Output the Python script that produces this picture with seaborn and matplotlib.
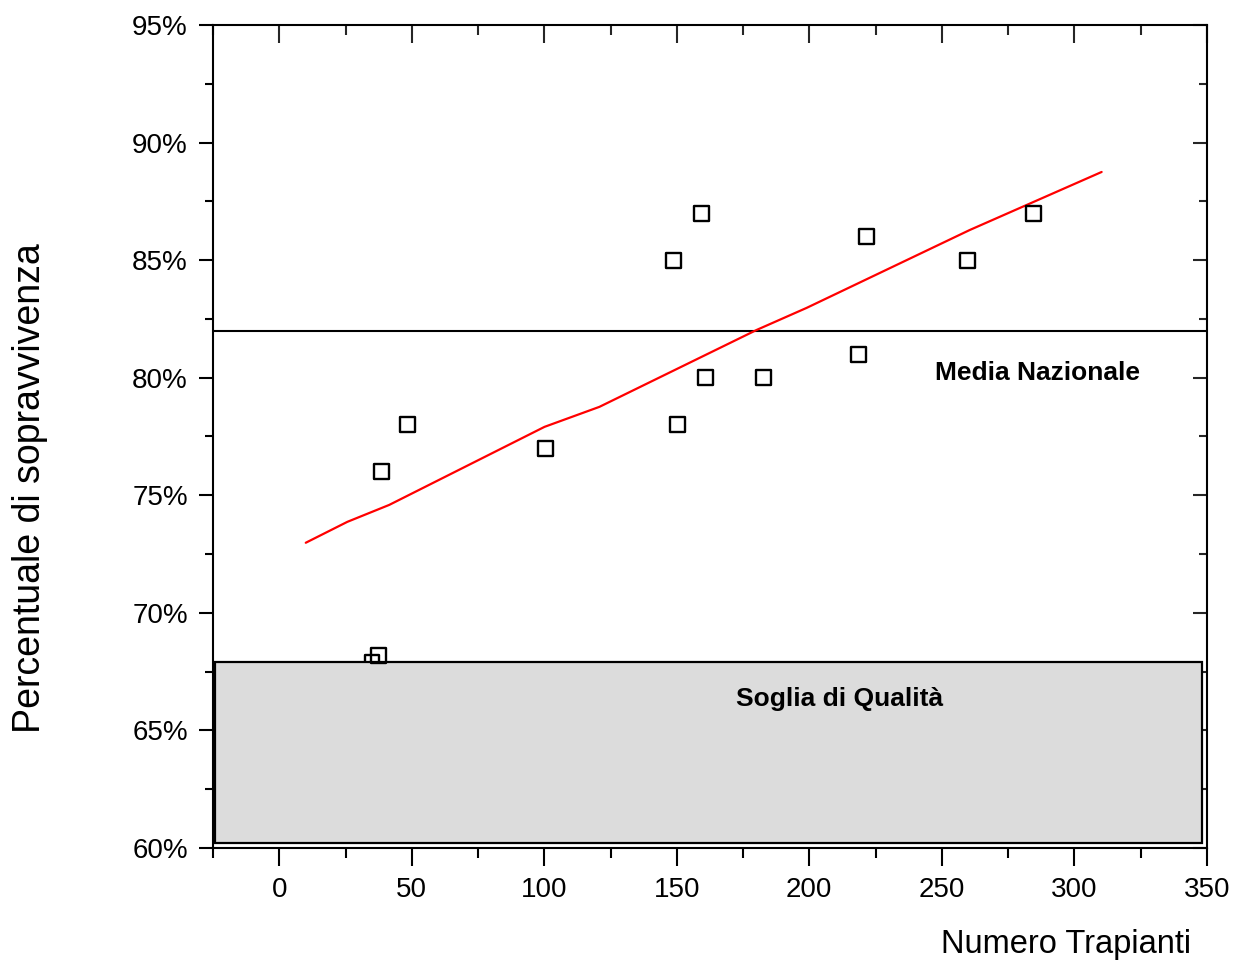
"""
Sopravvivenza vs numero trapianti - scatter con linea di tendenza
"""
import matplotlib
matplotlib.use("Agg")
import matplotlib.pyplot as plt
import matplotlib.ticker as mticker
from matplotlib.patches import Rectangle
import seaborn as sns
import pandas as pd

# centri (numero trapianti, % sopravvivenza)
centri_x = [38.5, 48.3, 100.4, 148.7, 159.3, 150.2, 160.8, 182.7, 218.6, 221.6, 259.7, 284.6, 37.5]
centri_y = [76.0, 78.0, 77.0, 85.0, 87.0, 78.0, 80.0, 80.0, 81.0, 86.0, 85.0, 87.0, 68.2]
# centro quasi coperto dalla fascia grigia
nascosto_x = [35.0]
nascosto_y = [67.9]

# linea di tendenza (rossa)
trend_x = [10, 25.7, 41.5, 100.1, 120.8, 180.1, 199.0, 260.5, 310.3]
trend_y = [72.98, 73.87, 74.59, 77.91, 78.76, 82.03, 82.97, 86.28, 88.75]

media_nazionale = 82.0
soglia_qualita = 67.9
soglia_base = 60.2

sns.set_theme(style="ticks")
plt.rcParams["font.family"] = ["Liberation Sans", "DejaVu Sans"]

fig = plt.figure(figsize=(12.34, 9.66), dpi=100)
ax = fig.add_axes([0.1726, 0.1222, 0.978 - 0.1726, 0.9741 - 0.1222])

df = pd.DataFrame({"x": centri_x, "y": centri_y})
df_tr = pd.DataFrame({"x": trend_x, "y": trend_y})

ax.add_patch(Rectangle((-24.3, soglia_base), 372.6, soglia_qualita - soglia_base,
                       facecolor="#dcdcdc", edgecolor="black", linewidth=1.6, zorder=2))
ax.axhline(media_nazionale, color="black", linewidth=1.5, zorder=2)

ax.scatter(nascosto_x, nascosto_y, marker="s", s=115, facecolors="none",
           edgecolors="black", linewidths=1.7, zorder=1)
sns.scatterplot(data=df, x="x", y="y", marker="s", s=115, facecolor="none",
                edgecolor="black", linewidth=1.7, ax=ax, zorder=4)
sns.lineplot(data=df_tr, x="x", y="y", color="red", linewidth=1.6, ax=ax,
             sort=False, zorder=3)

ax.set_xlim(-25, 350)
ax.set_ylim(60, 95)
ax.xaxis.set_major_locator(mticker.MultipleLocator(50))
ax.xaxis.set_minor_locator(mticker.MultipleLocator(25))
ax.yaxis.set_major_locator(mticker.MultipleLocator(5))
ax.yaxis.set_minor_locator(mticker.MultipleLocator(2.5))
ax.yaxis.set_major_formatter(mticker.FuncFormatter(lambda v, p: f"{v:.0f}%"))

for s in ax.spines.values():
    s.set_linewidth(1.5)
    s.set_color("black")

# ticks: esterni in basso/sinistra, interni in alto/destra
ax.tick_params(axis="both", which="both", color="black", width=1.5,
               labelsize=20, labelcolor="black")
ax.tick_params(axis="x", which="major", direction="out", length=13, pad=8)
ax.tick_params(axis="x", which="minor", direction="out", length=7)
ax.tick_params(axis="y", which="major", direction="out", length=10, pad=8)
ax.tick_params(axis="y", which="minor", direction="out", length=6)
ax.tick_params(top=False, right=False, which="both")

sec_x = ax.secondary_xaxis("top")
sec_x.xaxis.set_major_locator(mticker.MultipleLocator(50))
sec_x.xaxis.set_minor_locator(mticker.MultipleLocator(25))
sec_x.tick_params(which="major", direction="in", length=13, width=1.5, labeltop=False)
sec_x.tick_params(which="minor", direction="in", length=7, width=1.5)
sec_y = ax.secondary_yaxis("right")
sec_y.yaxis.set_major_locator(mticker.MultipleLocator(5))
sec_y.yaxis.set_minor_locator(mticker.MultipleLocator(2.5))
sec_y.tick_params(which="major", direction="in", length=10, width=1.5, labelright=False)
sec_y.tick_params(which="minor", direction="in", length=6, width=1.5)

ax.set_xlabel("")
ax.set_ylabel("")
fig.text(0.024, 0.495, "Percentuale di sopravvivenza", rotation=90, fontsize=27,
         ha="center", va="center", color="black")
fig.text(0.965, 0.022, "Numero Trapianti", fontsize=23.5, ha="right", va="center",
         color="black")

ax.text(247.3, 80.2, "Media Nazionale", fontsize=19, fontweight="bold",
        ha="left", va="center", color="black", zorder=5)
ax.text(172.2, 66.35, "Soglia di Qualità", fontsize=19, fontweight="bold",
        ha="left", va="center", color="black", zorder=5)

plt.savefig("out.png", dpi=100)
plt.close()
